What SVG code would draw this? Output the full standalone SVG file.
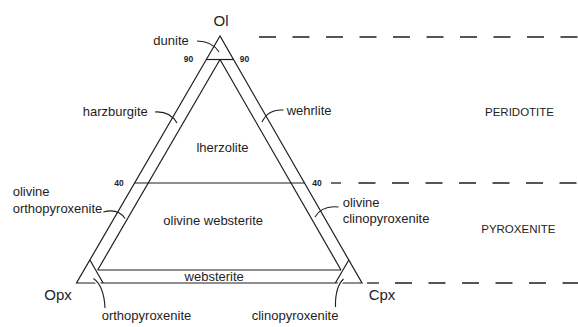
<svg xmlns="http://www.w3.org/2000/svg" width="578" height="327" viewBox="0 0 578 327">
  <style>
    .ln { fill: none; stroke: #1e1e1e; stroke-width: 1.2; stroke-linecap: butt; stroke-linejoin: miter; }
    .dash { fill: none; stroke: #1e1e1e; stroke-width: 1.3; }
    .lead { fill: none; stroke: #1e1e1e; stroke-width: 1.1; }
    .halo { fill: none; stroke: #ffffff; stroke-width: 4; }
    text { font-family: "Liberation Sans", Arial, Helvetica, sans-serif; fill: #1e1e1e; }
    .apex { font-size: 15px; }
    .lbl { font-size: 13px; }
    .num { font-size: 8.5px; font-weight: bold; }
    .cls { font-size: 11.5px; }
  </style>
  <rect width="578" height="327" fill="#ffffff"/>

  <!-- ternary frame and field boundaries -->
  <g id="frame">
    <path class="ln" d="M220 36 L76.5 283 L362 283 Z"/>
    <!-- inner boundaries parallel to Ol-Opx and Ol-Cpx sides -->
    <path class="ln" d="M220 59.5 L97.7 270"/>
    <path class="ln" d="M220 59.5 L341 270"/>
    <!-- 90 % and 40 % olivine -->
    <path class="ln" d="M206.3 59.5 H233.5"/>
    <path class="ln" d="M134.6 183 H304.5"/>
    <!-- websterite band -->
    <path class="ln" d="M97.7 270 H341"/>
    <!-- 90 % pyroxene corners -->
    <path class="ln" d="M89.9 260 L103.1 283"/>
    <path class="ln" d="M348.8 260 L335.4 283"/>
  </g>

  <!-- dashed class boundaries -->
  <g id="boundaries">
    <path class="dash" d="M259 37 H578" stroke-dasharray="17 16.5"/>
    <path class="dash" d="M331 183 H341"/>
    <path class="dash" d="M358.5 183 H578" stroke-dasharray="17 16.5"/>
    <path class="dash" d="M367 283 H379"/>
    <path class="dash" d="M395 283 H578" stroke-dasharray="17 16.5"/>
  </g>

  <!-- leader lines -->
  <g id="connectors">
    <path class="lead" d="M197 41 Q212 41 219 52"/>
    <path class="lead" d="M155 112 Q170 111 177 123"/>
    <path class="lead" d="M283.5 110 Q268 109 262 122"/>
    <path class="lead" d="M103.5 212 Q118 208 125 218.5"/>
    <path class="lead" d="M338.5 207 Q322 205 315 217"/>
    <path class="halo" d="M93.5 278.5 Q104 286 105 308"/>
    <path class="lead" d="M93.5 278.5 Q104 286 105 308"/>
    <path class="halo" d="M343.5 279 Q335 287 335.5 307"/>
    <path class="lead" d="M343.5 279 Q335 287 335.5 307"/>
  </g>

  <g id="node-ol"><text class="apex" x="221" y="26" text-anchor="middle">Ol</text></g>
  <g id="node-opx"><text class="apex" x="58" y="300" text-anchor="middle">Opx</text></g>
  <g id="node-cpx"><text class="apex" x="382" y="300" text-anchor="middle">Cpx</text></g>

  <g id="ticks">
    <text class="num" x="188.5" y="61.5" text-anchor="middle">90</text>
    <text class="num" x="244.5" y="61.5" text-anchor="middle">90</text>
    <text class="num" x="119" y="186" text-anchor="middle">40</text>
    <text class="num" x="317" y="186" text-anchor="middle">40</text>
  </g>

  <g id="field-dunite"><text class="lbl" x="153.3" y="45">dunite</text></g>
  <g id="field-harzburgite"><text class="lbl" x="82.7" y="116">harzburgite</text></g>
  <g id="field-wehrlite"><text class="lbl" x="286.7" y="115">wehrlite</text></g>
  <g id="field-lherzolite"><text class="lbl" x="222.5" y="151.5" text-anchor="middle">lherzolite</text></g>
  <g id="field-ol-opx">
    <text class="lbl" x="12.7" y="195.5">olivine</text>
    <text class="lbl" x="12.7" y="212.5">orthopyroxenite</text>
  </g>
  <g id="field-ol-websterite"><text class="lbl" x="163.3" y="225">olivine websterite</text></g>
  <g id="field-ol-cpx">
    <text class="lbl" x="342.7" y="207">olivine</text>
    <text class="lbl" x="342.7" y="223">clinopyroxenite</text>
  </g>
  <g id="field-websterite"><text class="lbl" x="214.2" y="280.5" text-anchor="middle">websterite</text></g>
  <g id="field-opx"><text class="lbl" x="101.7" y="320">orthopyroxenite</text></g>
  <g id="field-cpx"><text class="lbl" x="251.7" y="320">clinopyroxenite</text></g>

  <g id="class-peridotite"><text class="cls" x="519.5" y="115.7" text-anchor="middle">PERIDOTITE</text></g>
  <g id="class-pyroxenite"><text class="cls" x="518.3" y="233.3" text-anchor="middle">PYROXENITE</text></g>
</svg>
